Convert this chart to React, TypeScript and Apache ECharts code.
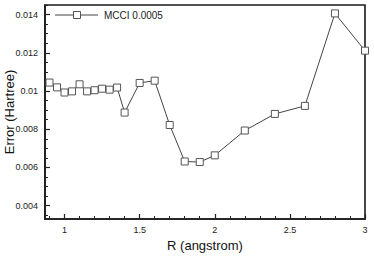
import React, { useEffect, useRef } from "react";
import * as echarts from "echarts";

const rValues = [0.9, 0.95, 1.0, 1.05, 1.1, 1.15, 1.2, 1.25, 1.3, 1.35, 1.4, 1.5, 1.6, 1.7, 1.8, 1.9, 2.0, 2.2, 2.4, 2.6, 2.8, 3.0];
const errorValues = [0.01044, 0.01019, 0.00992, 0.00998, 0.01035, 0.00998, 0.01004, 0.01012, 0.01007, 0.01018, 0.00887, 0.01042, 0.01054, 0.00822, 0.00631, 0.00628, 0.00663, 0.00793, 0.0088, 0.00922, 0.01406, 0.01211];
const seriesName = "MCCI 0.0005";

const xMajorTicks = [1, 1.5, 2, 2.5, 3];
const xMajorLabels = ["1", "1.5", "2", "2.5", "3"];
const xMinorTicks = [0.9, 1.1, 1.2, 1.3, 1.4, 1.6, 1.7, 1.8, 1.9, 2.1, 2.2, 2.3, 2.4, 2.6, 2.7, 2.8, 2.9];
const yMajorTicks = [0.004, 0.006, 0.008, 0.01, 0.012, 0.014];
const yMajorLabels = ["0.004", "0.006", "0.008", "0.01", "0.012", "0.014"];
const yMinorTicks = [0.0035, 0.0045, 0.005, 0.0055, 0.0065, 0.007, 0.0075, 0.0085, 0.009, 0.0095, 0.0105, 0.011, 0.0115, 0.0125, 0.013, 0.0135, 0.0145];

const X_MIN = 0.87;
const X_MAX = 3.0;
const Y_MIN = 0.0033;
const Y_MAX = 0.0145;

const FONT = "'Liberation Sans', Arial, Helvetica, sans-serif";

function labelFor(values: number[], labels: string[], v: number) {
  for (let i = 0; i < values.length; i++) {
    if (Math.abs(values[i] - v) < 1e-9) return labels[i];
  }
  return "";
}

export default function App() {
  const ref = useRef<HTMLDivElement>(null);
  useEffect(() => {
    if (!ref.current) return;
    const chart = echarts.init(ref.current, undefined, { renderer: "svg" });
    const axisLineStyle = { color: "#1a1a1a", width: 1.6 };
    chart.setOption({
      animation: false,
      backgroundColor: "#fff",
      grid: {
        left: 45,
        right: 9,
        top: 5,
        bottom: 45,
        containLabel: false,
        outerBoundsMode: "none",
        show: true,
        borderColor: "#1a1a1a",
        borderWidth: 1.6,
        backgroundColor: "transparent",
      },
      graphic: [
        {
          type: "line",
          shape: { x1: 55, y1: 15, x2: 98, y2: 15 },
          style: { stroke: "#444", lineWidth: 1 },
          z: 10,
        },
        {
          type: "rect",
          shape: { x: 73.5, y: 11.5, width: 7, height: 7 },
          style: { fill: "#fff", stroke: "#555", lineWidth: 1 },
          z: 11,
        },
        {
          type: "text",
          x: 104,
          y: 15,
          style: {
            text: seriesName,
            fontFamily: FONT,
            fontSize: 10,
            fill: "#222",
            verticalAlign: "middle",
            align: "left",
          },
          z: 11,
        },
      ],
      xAxis: [
        {
          type: "value",
          min: X_MIN,
          max: X_MAX,
          position: "bottom",
          name: "R (angstrom)",
          nameLocation: "middle",
          nameGap: 20,
          nameMoveOverlap: false,
          nameTextStyle: { fontFamily: FONT, fontSize: 13, color: "#111" },
          axisLine: { show: true, onZero: false, lineStyle: axisLineStyle },
          axisTick: { show: true, inside: true, length: 5, customValues: xMajorTicks, lineStyle: { color: "#222", width: 1.2 } },
          axisLabel: {
            show: true,
            customValues: xMajorTicks,
            margin: 6,
            fontFamily: FONT,
            fontSize: 9,
            color: "#222",
            formatter: (v: number) => labelFor(xMajorTicks, xMajorLabels, v),
          },
          splitLine: { show: false },
        },
        {
          type: "value",
          min: X_MIN,
          max: X_MAX,
          position: "bottom",
          axisLine: { show: false, onZero: false },
          axisTick: { show: true, inside: true, length: 3, customValues: xMinorTicks, lineStyle: { color: "#222", width: 1 } },
          axisLabel: { show: false },
          splitLine: { show: false },
        },
      ],
      yAxis: [
        {
          type: "value",
          min: Y_MIN,
          max: Y_MAX,
          position: "left",
          name: "Error (Hartree)",
          nameLocation: "middle",
          nameGap: 29,
          nameMoveOverlap: false,
          nameTextStyle: { fontFamily: FONT, fontSize: 13, color: "#111" },
          axisLine: { show: true, onZero: false, lineStyle: axisLineStyle },
          axisTick: { show: true, inside: true, length: 5, customValues: yMajorTicks, lineStyle: { color: "#222", width: 1.2 } },
          axisLabel: {
            show: true,
            customValues: yMajorTicks,
            margin: 7,
            fontFamily: FONT,
            fontSize: 9,
            color: "#222",
            formatter: (v: number) => labelFor(yMajorTicks, yMajorLabels, v),
          },
          splitLine: { show: false },
        },
        {
          type: "value",
          min: Y_MIN,
          max: Y_MAX,
          position: "left",
          axisLine: { show: false, onZero: false },
          axisTick: { show: true, inside: true, length: 3, customValues: yMinorTicks, lineStyle: { color: "#222", width: 1 } },
          axisLabel: { show: false },
          splitLine: { show: false },
        },
      ],
      series: [
        {
          name: seriesName,
          type: "line",
          xAxisIndex: 0,
          yAxisIndex: 0,
          data: rValues.map((r, i) => [r, errorValues[i]]),
          symbol: "rect",
          symbolSize: 7,
          showAllSymbol: true,
          lineStyle: { color: "#444", width: 1 },
          itemStyle: { color: "#fff", borderColor: "#555", borderWidth: 1 },
          emphasis: { disabled: true },
        },
      ],
    });
    return () => chart.dispose();
  }, []);
  return (
    <div
      ref={ref}
      style={{ position: "fixed", left: 0, top: 0, width: 374, height: 264, background: "#fff" }}
    />
  );
}
